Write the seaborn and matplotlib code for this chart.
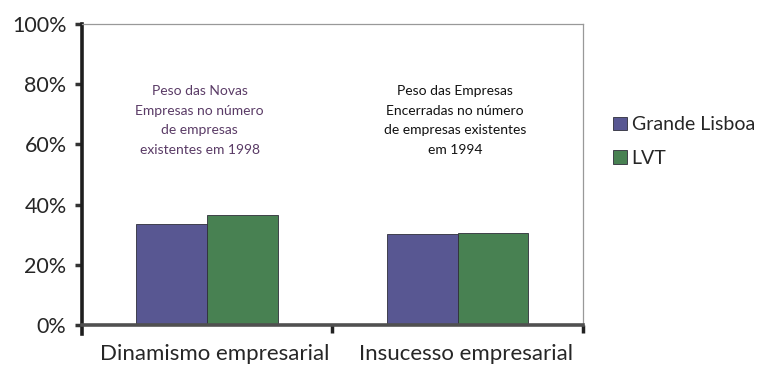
import numpy as np
import pandas as pd
import matplotlib
matplotlib.use('Agg')
import matplotlib.pyplot as plt
import matplotlib.transforms as mtransforms
from matplotlib.ticker import PercentFormatter
import seaborn as sns

categories = ['Dinamismo empresarial', 'Insucesso empresarial']
regions = ['Grande Lisboa', 'LVT']
grande_lisboa = [0.334, 0.302]
lvt = [0.364, 0.307]
notes = ['Peso das Novas\nEmpresas no número\nde empresas\nexistentes em 1998',
         'Peso das Empresas\nEncerradas no número\nde empresas existentes\nem 1994']

df = pd.DataFrame({
    'categoria': categories * 2,
    'regiao': [regions[0]] * 2 + [regions[1]] * 2,
    'valor': grande_lisboa + lvt,
})

sns.set_style('white')
plt.rcParams['font.family'] = ['Lato', 'DejaVu Sans']

fig = plt.figure(figsize=(7.58, 3.73), dpi=100)
ax = fig.add_axes([0.108, 0.1287, 0.661, 0.807])

sns.barplot(data=df, x='categoria', y='valor', hue='regiao',
            palette=['#4f4d9c', '#3f8a4c'], width=0.565, gap=0,
            edgecolor='#2e2e3a', linewidth=0.6, ax=ax)

ax.set_xlim(-0.5, 1.5)
ax.set_ylim(0, 1)
ax.set_yticks(np.arange(0, 1.01, 0.2))
ax.yaxis.set_major_formatter(PercentFormatter(1.0, decimals=0))
ax.set_xlabel('')
ax.set_ylabel('')

ax.set_xticks([0, 1])
ax.set_xticklabels(categories)
ax.set_xticks([0.5, 1.5], minor=True)
ax.tick_params(axis='x', which='major', length=0, labelsize=16, pad=14)
ax.tick_params(axis='x', which='minor', bottom=True, length=6, width=2.5, color='#222', direction='out')
ax.tick_params(axis='y', left=True, length=5, width=2.5, color='#333', direction='out', labelsize=15.5, pad=6)

# labels in the original sit a little right of the group centres
shift = mtransforms.ScaledTranslation(8 / 100, 0, fig.dpi_scale_trans)
for lab in ax.get_xticklabels():
    lab.set_transform(lab.get_transform() + shift)

for side in ['top', 'right']:
    ax.spines[side].set_color('#999999')
    ax.spines[side].set_linewidth(0.9)
ax.spines['left'].set_color('#1e1e1e')
ax.spines['left'].set_linewidth(2.6)
ax.spines['left'].set_bounds(-0.03, 1)
ax.spines['bottom'].set_color('#505050')
ax.spines['bottom'].set_linewidth(2.6)

ax.text(-0.03, 0.68, notes[0], ha='center', va='center', fontsize=10,
        color='#5a3b66', linespacing=1.75)
ax.text(0.99, 0.68, notes[1], ha='center', va='center', fontsize=10,
        color='#111111', linespacing=1.75)

ax.legend(loc='center left', bbox_to_anchor=(1.045, 0.61), frameon=False,
          fontsize=14, handlelength=0.7, handleheight=0.7, handletextpad=0.25,
          labelspacing=0.85, borderaxespad=0)

fig.savefig('out.png', dpi=100)
